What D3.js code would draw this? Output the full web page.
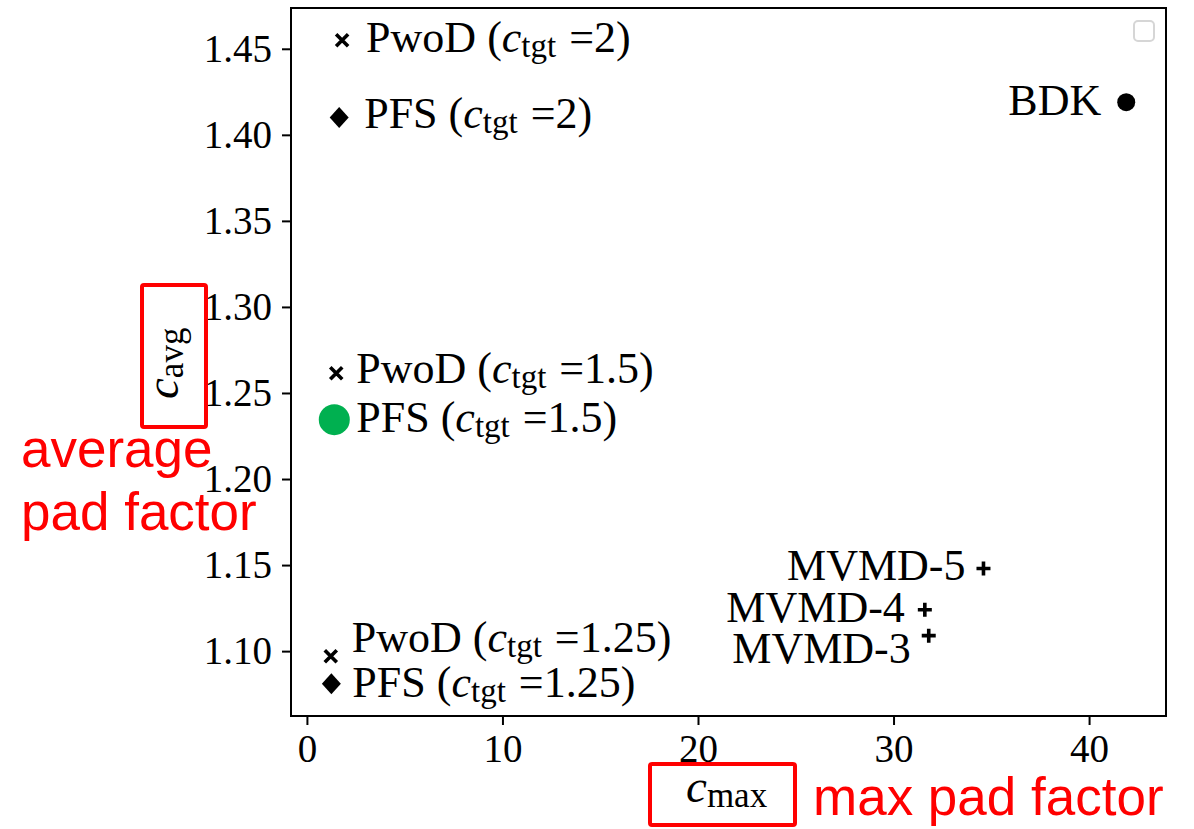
<!DOCTYPE html>
<meta charset="utf-8">
<style>
  body {
    margin: 0;
    background-color: white;
  }
  svg text {
    white-space: pre;
  }
</style>

<body>
  <div id="chart"></div>

  <script src="https://cdn.jsdelivr.net/npm/d3@7"></script>
  <script>

    // one entry per point: method, target pad factor, c_max, c_avg, marker
    var methods = ["PwoD", "PFS", "PwoD", "PFS", "PwoD", "PFS", "MVMD-5", "MVMD-4", "MVMD-3", "BDK"];
    var targets = ["2", "2", "1.5", "1.5", "1.25", "1.25", null, null, null, null];
    var cMax = [1.8, 1.65, 1.5, 1.4, 1.22, 1.25, 34.6, 31.6, 31.8, 41.9];
    var cAvg = [1.455, 1.41, 1.2615, 1.2345, 1.097, 1.081, 1.148, 1.124, 1.109, 1.419];
    var markers = ["x", "D", "x", "O", "x", "D", "+", "+", "+", "o"];

    var xTicks = [0, 10, 20, 30, 40];
    var yTicks = [1.10, 1.15, 1.20, 1.25, 1.30, 1.35, 1.40, 1.45];

    // where each label sits relative to its marker (px) and which side
    var labelOffsets = [
      [24, 12, "start"], [25, 10, "start"], [20, 10, "start"], [22, 12, "start"],
      [21, -4, "start"], [21, 13, "start"],
      [-18, 11, "end"], [-20, 12, "end"], [-18, 27, "end"], [-25, 13, "end"]
    ];

    var W = 1194, H = 829;
    var plot = { left: 291, right: 1166, top: 8, bottom: 716 };
    var serif = "'Liberation Serif', 'Times New Roman', serif";
    var sans = "'Liberation Sans', Arial, sans-serif";

    var svg = d3.select("#chart")
      .append("svg")
      .attr("width", W)
      .attr("height", H);

    svg.append("rect").attr("width", W).attr("height", H).attr("fill", "white");

    // matplotlib style 5% margins
    function padded(vals) {
      var lo = d3.min(vals), hi = d3.max(vals), m = (hi - lo) * 0.05;
      return [lo - m, hi + m];
    }

    var x = d3.scaleLinear().domain(padded(cMax)).range([plot.left, plot.right]);
    var y = d3.scaleLinear().domain(padded(cAvg)).range([plot.bottom, plot.top]);

    // axes
    var xAxis = svg.append("g")
      .attr("transform", "translate(0," + plot.bottom + ")")
      .call(d3.axisBottom(x).tickValues(xTicks).tickSize(9).tickPadding(9));
    var yAxis = svg.append("g")
      .attr("transform", "translate(" + plot.left + ",0)")
      .call(d3.axisLeft(y).tickValues(yTicks).tickFormat(d3.format(".2f")).tickSize(9).tickPadding(10));

    [xAxis, yAxis].forEach(function (a) {
      a.select(".domain").remove();
      a.selectAll(".tick line").attr("stroke", "black").attr("stroke-width", 2);
      a.selectAll(".tick text")
        .attr("fill", "black")
        .style("font-family", serif)
        .style("font-size", "39px");
    });

    // frame
    svg.append("rect")
      .attr("x", plot.left)
      .attr("y", plot.top)
      .attr("width", plot.right - plot.left)
      .attr("height", plot.bottom - plot.top)
      .attr("fill", "none")
      .attr("stroke", "black")
      .attr("stroke-width", 2);

    // empty legend box
    svg.append("rect")
      .attr("x", 1134).attr("y", 21)
      .attr("width", 20).attr("height", 20)
      .attr("rx", 4)
      .attr("fill", "white")
      .attr("stroke", "#d6d6d6")
      .attr("stroke-width", 2);

    // points
    var pts = svg.append("g");
    methods.forEach(function (m, i) {
      var g = pts.append("g")
        .attr("transform", "translate(" + x(cMax[i]) + "," + y(cAvg[i]) + ")");
      var mk = markers[i];
      if (mk === "x") {
        g.append("path").attr("d", "M-6,-6L6,6M-6,6L6,-6")
          .attr("stroke", "black").attr("stroke-width", 3.6).attr("fill", "none");
      } else if (mk === "+") {
        g.append("path").attr("d", "M-7,0H7M0,-7V7")
          .attr("stroke", "black").attr("stroke-width", 3.6).attr("fill", "none");
      } else if (mk === "D") {
        g.append("path").attr("d", "M0,-10.5L9.5,0L0,10.5L-9.5,0Z").attr("fill", "black");
      } else if (mk === "o") {
        g.append("circle").attr("r", 9).attr("fill", "black");
      } else if (mk === "O") {
        g.append("circle").attr("r", 15.5).attr("fill", "#00b050");
      }

      // label
      var off = labelOffsets[i];
      var t = g.append("text")
        .attr("x", off[0])
        .attr("y", off[1])
        .attr("text-anchor", off[2])
        .style("font-family", serif)
        .style("font-size", "44px")
        .attr("fill", "black");
      if (targets[i] === null) {
        t.text(m);
      } else {
        t.append("tspan").text(m + " (");
        t.append("tspan").style("font-style", "italic").text("c");
        t.append("tspan").style("font-size", "33px").attr("dy", 5).text("tgt");
        t.append("tspan").attr("dy", -5).attr("dx", 2).text(" =" + targets[i] + ")");
      }
    });

    // axis labels
    var xl = svg.append("text")
      .attr("x", 686).attr("y", 802)
      .style("font-family", serif).style("font-size", "47px").attr("fill", "black");
    xl.append("tspan").style("font-style", "italic").text("c");
    xl.append("tspan").style("font-size", "35px").attr("dy", 5).text("max");

    var yl = svg.append("text")
      .attr("transform", "translate(178,399) rotate(-90)")
      .style("font-family", serif).style("font-size", "47px").attr("fill", "black");
    yl.append("tspan").style("font-style", "italic").text("c");
    yl.append("tspan").style("font-size", "35px").attr("dy", 5).text("avg");

    // red annotations
    var red = "#ff0000";
    svg.append("rect")
      .attr("x", 142).attr("y", 285).attr("width", 64).attr("height", 142)
      .attr("rx", 2)
      .attr("fill", "none").attr("stroke", red).attr("stroke-width", 4);
    svg.append("rect")
      .attr("x", 650).attr("y", 764).attr("width", 145).attr("height", 61)
      .attr("rx", 2)
      .attr("fill", "none").attr("stroke", red).attr("stroke-width", 4);

    [["average", 21, 467], ["pad factor", 21, 530], ["max pad factor", 813, 815]].forEach(function (r) {
      svg.append("text")
        .attr("x", r[1]).attr("y", r[2])
        .style("font-family", sans).style("font-size", "53px")
        .attr("fill", red)
        .text(r[0]);
    });

  </script>
</body>
